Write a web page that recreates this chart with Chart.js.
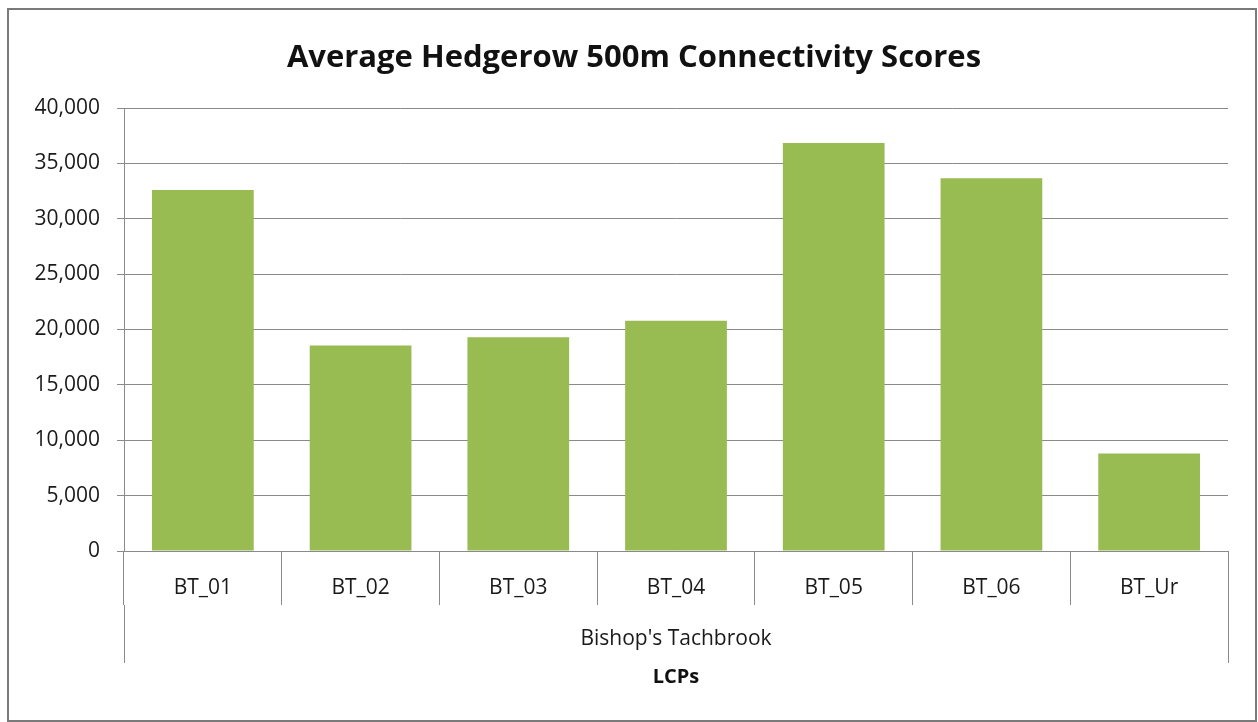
<!DOCTYPE html>
<html>
<head>
<meta charset="utf-8">
<script src="https://cdn.jsdelivr.net/npm/chart.js@4/dist/chart.umd.min.js"></script>
<style>
  html, body { margin: 0; padding: 0; background: #fff; }
  #wrap { width: 1258px; height: 722px; position: relative; }
</style>
</head>
<body>
<div id="wrap"><canvas id="chart"></canvas></div>
<script>
// chart data
const categories = ['BT_01', 'BT_02', 'BT_03', 'BT_04', 'BT_05', 'BT_06', 'BT_Ur'];
const scores = [32600, 18550, 19300, 20800, 36850, 33650, 8800];
const groupLabels = ["Bishop's Tachbrook"];
const axisTitle = 'LCPs';
const chartTitle = 'Average Hedgerow 500m Connectivity Scores';

const FONT = "'Open Sans', sans-serif";
const GRID = '#8a8a8a';

// outer frame round the whole chart
const framePlugin = {
    id: 'frame',
    beforeDraw(chart) {
        const ctx = chart.ctx;
        ctx.save();
        ctx.fillStyle = '#fff';
        ctx.fillRect(0, 0, chart.width, chart.height);
        ctx.strokeStyle = '#7a7a7a';
        ctx.lineWidth = 2;
        ctx.strokeRect(8, 9, 1248, 712);
        ctx.restore();
    }
};

// title sits a bit left of the plot centre, as in the original
const titlePlugin = {
    id: 'centredTitle',
    afterDraw(chart) {
        const ctx = chart.ctx;
        ctx.save();
        ctx.fillStyle = '#111';
        ctx.font = `bold 31px ${FONT}`;
        ctx.textAlign = 'center';
        ctx.textBaseline = 'middle';
        ctx.fillText(chartTitle, 634, 58);
        ctx.restore();
    }
};

new Chart(document.getElementById('chart'), {
    type: 'bar',
    data: {
        labels: categories,
        datasets: [{
            data: scores,
            backgroundColor: '#98bb52',
            borderWidth: 0,
            categoryPercentage: 1,
            barPercentage: 0.645
        }]
    },
    options: {
        responsive: true,
        maintainAspectRatio: false,
        animation: false,
        layout: { padding: { left: 0, right: 30, top: 108, bottom: 27 } },
        plugins: {
            legend: { display: false },
            tooltip: { enabled: false },
            title: { display: false }
        },
        scales: {
            y: {
                min: 0,
                max: 40000,
                ticks: {
                    stepSize: 5000,
                    color: '#1a1a1a',
                    padding: 17,
                    font: { family: FONT, size: 21 },
                    callback: v => v.toLocaleString('en-US')
                },
                grid: { color: GRID, tickLength: 7 },
                border: { color: GRID },
                afterFit: s => { s.width = 124; }
            },
            x: {
                ticks: {
                    color: '#1a1a1a',
                    padding: -30,
                    font: { family: FONT, size: 21 }
                },
                grid: { color: GRID, drawOnChartArea: false, tickLength: 54 },
                border: { color: GRID },
                afterFit: s => { s.height = 54; }
            },
            x2: {
                type: 'category',
                position: 'bottom',
                labels: groupLabels,
                offset: true,
                ticks: {
                    color: '#1a1a1a',
                    padding: -37,
                    font: { family: FONT, size: 21 }
                },
                grid: { color: GRID, drawOnChartArea: false, tickLength: 58 },
                border: { display: false },
                title: {
                    display: true,
                    text: axisTitle,
                    color: '#111',
                    font: { family: FONT, size: 20, weight: 'bold' },
                    padding: { top: 0, bottom: 6 }
                },
                afterFit: s => { s.height = 90; }
            }
        }
    },
    plugins: [framePlugin, titlePlugin]
});
</script>
</body>
</html>
